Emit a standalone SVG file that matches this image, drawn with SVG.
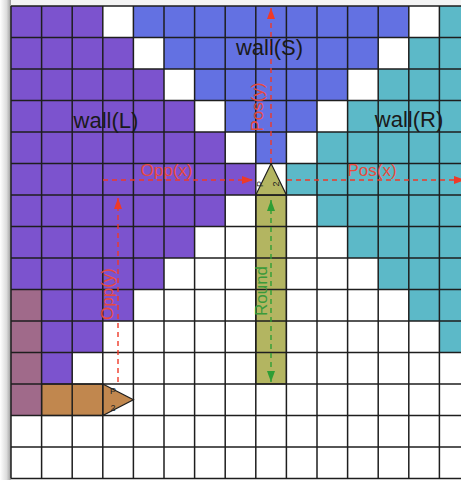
<svg xmlns="http://www.w3.org/2000/svg" width="461" height="480" viewBox="0 0 461 480">
<defs>
<linearGradient id="lshadow" x1="0" y1="0" x2="1" y2="0">
<stop offset="0" stop-color="#ffffff"/>
<stop offset="0.6" stop-color="#dcdcdc"/>
<stop offset="1" stop-color="#9a9a9a"/>
</linearGradient>
<marker id="ar" markerUnits="userSpaceOnUse" markerWidth="12" markerHeight="9" refX="11" refY="4" orient="auto-start-reverse">
<path d="M0,0 L11,4 L0,8 z" fill="#EE3A28"/>
</marker>
<marker id="ag" markerUnits="userSpaceOnUse" markerWidth="12" markerHeight="9" refX="11" refY="4" orient="auto-start-reverse">
<path d="M0,0 L11,4 L0,8 z" fill="#2E9E35"/>
</marker>
</defs>
<style>
.grid line{stroke:#1e1e1e;stroke-width:1.5}
.wall{font-family:"Liberation Sans",Arial,sans-serif;font-size:22px;fill:#1a1a1a;text-anchor:middle}
.lbl{font-family:"Liberation Sans",Arial,sans-serif;font-size:17px;text-anchor:middle}
.red{fill:#E84A3C}
.grn{fill:#3A9A3A}
.dr{stroke:#EE3A28;stroke-width:1.4;stroke-dasharray:5 4;fill:none}
.dg{stroke:#2E9E35;stroke-width:1.4;stroke-dasharray:5 4;fill:none}
.tiny{font-family:"Liberation Sans",Arial,sans-serif;font-size:9px;fill:#222;text-anchor:middle}
.out{stroke:#1e1e1e;stroke-width:1.2}
</style>
<rect width="461" height="480" fill="#ffffff"/>
<rect x="0" y="0" width="11" height="480" fill="url(#lshadow)"/>
<rect x="11" y="0" width="450" height="6" fill="#f4f4f4"/>

<g id="wall-L">
<polygon fill="#7C53CE" points="11,6 102.8,6 102.8,37.5 133.4,37.5 133.4,69 164,69 164,100.5 194.6,100.5 194.6,132 225.2,132 225.2,163.5 255.8,163.5 255.8,195 225.2,195 225.2,226.5 194.6,226.5 194.6,258 164,258 164,289.5 133.4,289.5 133.4,321 102.8,321 102.8,352.5 72.2,352.5 72.2,384 41.6,384 41.6,289.5 11,289.5"/>
</g>
<g id="wall-S">
<polygon fill="#6371E2" points="133.4,6 408.8,6 408.8,37.5 378.2,37.5 378.2,69 347.6,69 347.6,100.5 317,100.5 317,132 286.4,132 286.4,163.5 255.8,163.5 255.8,132 225.2,132 225.2,100.5 194.6,100.5 194.6,69 164,69 164,37.5 133.4,37.5"/>
</g>
<g id="wall-R">
<polygon fill="#5CB9C8" points="439.4,6 470,6 470,352.5 439.4,352.5 439.4,321 408.8,321 408.8,289.5 378.2,289.5 378.2,258 347.6,258 347.6,226.5 317,226.5 317,195 286.4,195 286.4,163.5 317,163.5 317,132 347.6,132 347.6,100.5 378.2,100.5 378.2,69 408.8,69 408.8,37.5 439.4,37.5"/>
</g>
<g id="corner">
<rect x="11" y="289.5" width="30.6" height="126" fill="#A06A8A"/>
</g>

<g id="olive-arrow">
<rect x="255.8" y="195" width="30.6" height="189" fill="#B3B561" class="out"/>
<polygon points="255.8,195 271.1,163.5 286.4,195" fill="#B3B561" class="out"/>
<text class="tiny" transform="translate(263,184) rotate(-90)">P</text>
<text class="tiny" transform="translate(279,184) rotate(-90)">2</text>
</g>
<g id="brown-arrow">
<rect x="41.6" y="384" width="61.2" height="31.5" fill="#C1874E" class="out"/>
<polygon points="102.8,384 133.4,399.75 102.8,415.5" fill="#C1874E" class="out"/>
<text class="tiny" x="113" y="394">P</text>
<text class="tiny" x="113" y="411">2</text>
</g>

<g class="grid">
<line x1="11" y1="6" x2="11" y2="478.5"/>
<line x1="41.6" y1="6" x2="41.6" y2="478.5"/>
<line x1="72.2" y1="6" x2="72.2" y2="478.5"/>
<line x1="102.8" y1="6" x2="102.8" y2="478.5"/>
<line x1="133.4" y1="6" x2="133.4" y2="478.5"/>
<line x1="164" y1="6" x2="164" y2="478.5"/>
<line x1="194.6" y1="6" x2="194.6" y2="478.5"/>
<line x1="225.2" y1="6" x2="225.2" y2="478.5"/>
<line x1="255.8" y1="6" x2="255.8" y2="478.5"/>
<line x1="286.4" y1="6" x2="286.4" y2="478.5"/>
<line x1="317" y1="6" x2="317" y2="478.5"/>
<line x1="347.6" y1="6" x2="347.6" y2="478.5"/>
<line x1="378.2" y1="6" x2="378.2" y2="478.5"/>
<line x1="408.8" y1="6" x2="408.8" y2="478.5"/>
<line x1="439.4" y1="6" x2="439.4" y2="478.5"/>
<line x1="11" y1="6" x2="461" y2="6"/>
<line x1="11" y1="37.5" x2="461" y2="37.5"/>
<line x1="11" y1="69" x2="461" y2="69"/>
<line x1="11" y1="100.5" x2="461" y2="100.5"/>
<line x1="11" y1="132" x2="461" y2="132"/>
<line x1="11" y1="163.5" x2="461" y2="163.5"/>
<line x1="11" y1="195" x2="461" y2="195"/>
<line x1="11" y1="226.5" x2="461" y2="226.5"/>
<line x1="11" y1="258" x2="461" y2="258"/>
<line x1="11" y1="289.5" x2="461" y2="289.5"/>
<line x1="11" y1="321" x2="461" y2="321"/>
<line x1="11" y1="352.5" x2="461" y2="352.5"/>
<line x1="11" y1="384" x2="461" y2="384"/>
<line x1="11" y1="415.5" x2="461" y2="415.5"/>
<line x1="11" y1="447" x2="461" y2="447"/>
<line x1="11" y1="478.5" x2="461" y2="478.5"/>
</g>

<g id="connectors">
<path class="dr" d="M103,180 H253" marker-end="url(#ar)"/>
<path class="dr" d="M287,180 H465" marker-end="url(#ar)"/>
<path class="dr" d="M271,163 V8" marker-end="url(#ar)"/>
<path class="dr" d="M118,382 V198" marker-end="url(#ar)"/>
<path class="dg" d="M271,200 V382" marker-start="url(#ag)" marker-end="url(#ag)"/>
</g>

<g id="labels">
<text class="wall" x="106" y="128">wall(L)</text>
<text class="wall" x="269.5" y="55">wall(S)</text>
<text class="wall" x="409" y="127">wall(R)</text>
<text class="lbl red" x="166.5" y="176">Opp(x)</text>
<text class="lbl red" x="372" y="176">Pos(x)</text>
<text class="lbl red" transform="translate(263,107) rotate(-90)">Pos(y)</text>
<text class="lbl red" transform="translate(113,294) rotate(-90)">Opp(y)</text>
<text class="lbl grn" transform="translate(267,291) rotate(-90)">Round</text>
</g>
</svg>
